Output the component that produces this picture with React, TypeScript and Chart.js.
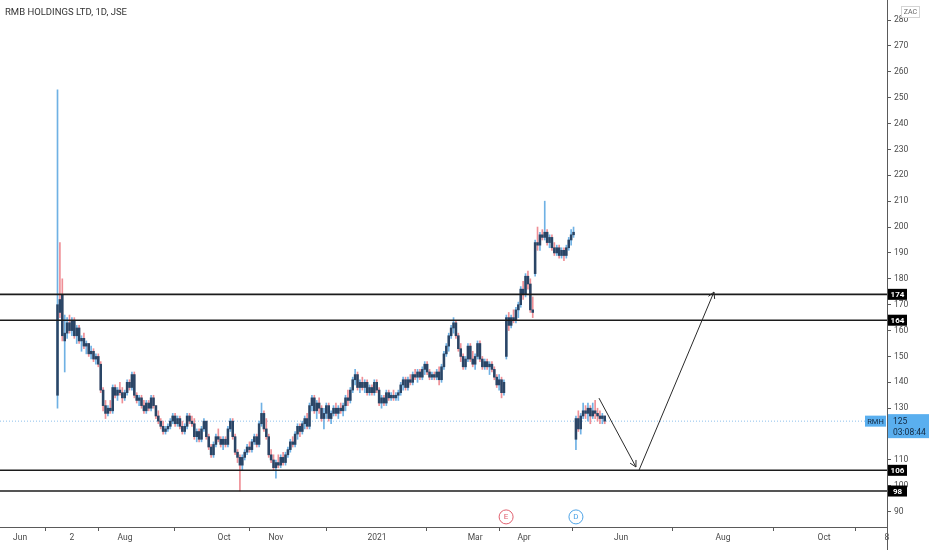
import React, { useEffect, useRef } from "react";
import { Chart, registerables } from "chart.js";

Chart.register(...registerables);

// ---------- data ----------
const opens = [
  135, 172, 174, 156, 159, 163, 160, 164, 158, 161,
  156, 157, 154, 155, 151, 152, 149, 150, 147, 137,
  131, 128, 130, 129, 138, 135, 137, 136, 134, 136,
  140, 138, 143, 135, 133, 134, 131, 129, 132, 130,
  134, 131, 127, 125, 123, 121, 122, 123, 125, 127,
  124, 126, 123, 121, 123, 127, 125, 124, 119, 121,
  118, 122, 125, 119, 115, 112, 116, 119, 118, 116,
  118, 116, 122, 125, 119, 113, 111, 108, 111, 113,
  115, 114, 117, 119, 116, 124, 128, 122, 119, 112,
  110, 107, 109, 108, 111, 109, 112, 114, 117, 116,
  120, 123, 121, 124, 126, 123, 131, 134, 129, 132,
  130, 126, 128, 131, 126, 128, 130, 128, 130, 129,
  131, 134, 133, 137, 141, 143, 138, 140, 138, 140,
  136, 138, 136, 140, 137, 132, 134, 132, 136, 134,
  135, 134, 135, 136, 139, 141, 138, 141, 140, 143,
  142, 144, 142, 145, 147, 144, 142, 143, 142, 144,
  141, 146, 151, 154, 158, 161, 163, 158, 153, 150,
  146, 149, 154, 149, 147, 150, 155, 149, 146, 148,
  146, 147, 145, 142, 139, 141, 136, 150, 165, 162,
  165, 164, 168, 170, 176, 174, 181, 178, 168, 182,
  194, 193, 197, 196, 198, 194, 196, 192, 190, 192,
  189, 191, 189, 192, 195, 197, 118, 126, 122, 127,
  129, 128, 130, 127, 129, 128, 127, 126, 127,
];
const highs = [
  253, 194, 180, 166, 165, 166, 165, 165, 162, 162,
  158, 159, 156, 155, 154, 153, 151, 151, 148, 138,
  133, 131, 133, 139, 139, 138, 140, 138, 137, 141,
  141, 144, 144, 136, 135, 135, 133, 133, 133, 135,
  135, 131, 129, 126, 125, 123, 124, 126, 128, 128,
  127, 127, 125, 124, 128, 128, 127, 126, 122, 122,
  123, 126, 125, 120, 116, 117, 120, 122, 119, 119,
  119, 123, 126, 126, 120, 114, 112, 112, 114, 116,
  117, 118, 120, 120, 125, 132, 129, 126, 120, 114,
  112, 110, 112, 112, 113, 113, 115, 118, 119, 121,
  124, 124, 125, 127, 128, 132, 135, 135, 133, 134,
  131, 130, 132, 132, 129, 131, 132, 131, 132, 132,
  135, 137, 138, 142, 145, 144, 141, 142, 141, 141,
  139, 139, 141, 141, 138, 135, 135, 137, 137, 136,
  137, 136, 137, 140, 142, 142, 142, 143, 144, 145,
  145, 145, 146, 148, 148, 145, 144, 144, 145, 146,
  147, 152, 155, 159, 162, 165, 164, 159, 155, 151,
  150, 155, 155, 152, 151, 156, 156, 150, 149, 149,
  148, 148, 146, 143, 143, 142, 141, 166, 167, 166,
  168, 169, 171, 177, 179, 182, 183, 180, 173, 195,
  200, 198, 199, 210, 199, 197, 197, 194, 193, 193,
  192, 192, 193, 196, 199, 200, 127, 129, 128, 132,
  131, 132, 131, 132, 133, 130, 129, 128, 127,
];
const lows = [
  130, 165, 156, 144, 157, 159, 158, 157, 155, 155,
  152, 153, 151, 150, 149, 148, 147, 146, 136, 129,
  126, 127, 128, 128, 134, 133, 135, 132, 133, 135,
  137, 137, 134, 132, 131, 130, 128, 128, 129, 129,
  130, 126, 124, 122, 120, 120, 121, 122, 124, 123,
  123, 122, 120, 120, 122, 124, 123, 118, 117, 117,
  117, 121, 118, 114, 111, 111, 115, 117, 115, 114,
  115, 115, 121, 118, 112, 109, 98, 106, 110, 112,
  113, 113, 116, 115, 115, 123, 121, 118, 111, 109,
  106, 103, 107, 107, 108, 108, 111, 113, 115, 115,
  118, 119, 120, 122, 122, 122, 129, 128, 126, 128,
  125, 122, 126, 125, 124, 127, 127, 126, 128, 127,
  129, 131, 132, 136, 139, 137, 136, 137, 136, 135,
  135, 135, 135, 136, 131, 130, 131, 131, 133, 133,
  133, 133, 133, 135, 137, 137, 137, 139, 139, 141,
  140, 141, 141, 143, 143, 141, 141, 141, 141, 139,
  140, 145, 150, 152, 157, 159, 157, 152, 148, 145,
  145, 148, 148, 146, 145, 149, 148, 145, 145, 145,
  143, 144, 141, 138, 137, 134, 135, 149, 160, 161,
  163, 163, 165, 169, 172, 173, 176, 167, 165, 181,
  191, 191, 195, 195, 193, 192, 191, 189, 189, 188,
  188, 187, 188, 191, 193, 196, 114, 121, 120, 126,
  126, 125, 124, 126, 126, 125, 124, 124, 124,
];
const closes = [
  170, 167, 158, 159, 163, 160, 164, 158, 161, 156,
  157, 154, 155, 151, 152, 149, 150, 147, 137, 131,
  128, 130, 129, 138, 135, 137, 136, 134, 136, 140,
  138, 143, 135, 133, 134, 131, 129, 132, 130, 134,
  131, 127, 125, 123, 121, 122, 123, 125, 127, 124,
  126, 123, 121, 123, 127, 125, 124, 119, 121, 118,
  122, 125, 119, 115, 112, 116, 119, 118, 116, 118,
  116, 122, 125, 119, 113, 111, 108, 111, 113, 115,
  114, 117, 119, 116, 124, 128, 122, 119, 112, 110,
  107, 109, 108, 111, 109, 112, 114, 117, 116, 120,
  123, 121, 124, 126, 123, 131, 134, 129, 132, 130,
  126, 128, 131, 126, 128, 130, 128, 130, 129, 131,
  134, 133, 137, 141, 143, 138, 140, 138, 140, 136,
  138, 136, 140, 137, 132, 134, 132, 136, 134, 135,
  134, 135, 136, 139, 141, 138, 141, 140, 143, 142,
  144, 142, 145, 147, 144, 142, 143, 142, 144, 141,
  146, 151, 154, 158, 161, 163, 158, 153, 150, 146,
  149, 154, 149, 147, 150, 155, 149, 146, 148, 146,
  147, 145, 142, 139, 141, 136, 140, 165, 162, 165,
  164, 168, 170, 176, 174, 181, 178, 168, 167, 194,
  193, 197, 196, 198, 194, 196, 192, 190, 192, 189,
  191, 189, 192, 195, 197, 198, 126, 122, 127, 129,
  128, 130, 127, 129, 128, 127, 126, 127, 125,
];

// time axis (bar-index units; 0 = first bar)
const xTickLabels = ["Jun", "2", "Aug", "Oct", "Nov", "2021", "Mar", "Apr", "Jun", "Aug", "Oct", "8"];
const xTickIndex = [-15.6, 6, 28.1, 69.4, 91, 133.1, 174, 194.4, 234.8, 277.3, 319.4, 345.6];

const levels = [174, 164, 106, 98];
const lastPrice = 125;
const lastPriceTimer = "03:08:44";
const symbolName = "RMH";
const currencyName = "ZAC";
const titleText = "RMB HOLDINGS LTD, 1D, JSE";

const arrowPaths = [
  [{ x: 225.6, y: 133.9 }, { x: 241, y: 107.3 }],
  [{ x: 242.3, y: 106.1 }, { x: 273.5, y: 174.9 }],
];
const eventLabels = ["E", "D"];
const eventIndex = [186.9, 216];
const eventValue = 88;

const X_MIN = -23.96;
const X_MAX = 345.6;
const Y_MIN = 84.1;
const Y_MAX = 287.73;

// ---------- styles ----------
const FONT = "Roboto, 'Liberation Sans', sans-serif";
const UP_WICK = "#6fb1e4";
const DOWN_WICK = "#ef8f96";
const BODY = "#2a4566";
const LEVEL = "#1c1c1c";
const ARROW = "#2a2a2a";
const AXIS = "#5a5a5a";
const TEXT = "#4a4a4a";
const BLUE = "#5aafef";
const EVENT_COLORS = ["#e0606e", "#4ea3e6"];

const overlayPlugin = {
  id: "overlay",
  afterDatasetsDraw(chart: any) {
    const { ctx } = chart;
    const xs = chart.scales.x;
    const ys = chart.scales.y;
    ctx.save();
    ctx.strokeStyle = ARROW;
    ctx.lineWidth = 1;
    arrowPaths.forEach((path) => {
      const a = path[path.length - 2];
      const b = path[path.length - 1];
      const x1 = xs.getPixelForValue(a.x);
      const y1 = ys.getPixelForValue(a.y);
      const x2 = xs.getPixelForValue(b.x);
      const y2 = ys.getPixelForValue(b.y);
      const ang = Math.atan2(y2 - y1, x2 - x1);
      ctx.beginPath();
      [-1, 1].forEach((s) => {
        ctx.moveTo(x2, y2);
        ctx.lineTo(x2 - 7 * Math.cos(ang + s * 0.5), y2 - 7 * Math.sin(ang + s * 0.5));
      });
      ctx.stroke();
    });
    eventLabels.forEach((lab, i) => {
      const px = xs.getPixelForValue(eventIndex[i]);
      const py = ys.getPixelForValue(eventValue);
      ctx.beginPath();
      ctx.arc(px, py, 7, 0, Math.PI * 2);
      ctx.fillStyle = "#ffffff";
      ctx.fill();
      ctx.strokeStyle = EVENT_COLORS[i];
      ctx.lineWidth = 1;
      ctx.stroke();
      ctx.fillStyle = EVENT_COLORS[i];
      ctx.font = `8px ${FONT}`;
      ctx.textAlign = "center";
      ctx.textBaseline = "middle";
      ctx.fillText(lab, px, py + 0.5);
    });
    ctx.restore();
  },
  afterDraw(chart: any) {
    const { ctx, chartArea: ca } = chart;
    const ys = chart.scales.y;
    ctx.save();
    ctx.strokeStyle = AXIS;
    ctx.lineWidth = 1;
    ctx.beginPath();
    ctx.moveTo(Math.round(ca.right) + 0.5, ca.bottom);
    ctx.lineTo(Math.round(ca.right) + 0.5, chart.height);
    ctx.stroke();

    ctx.fillStyle = "#333333";
    ctx.font = `9.5px ${FONT}`;
    ctx.textAlign = "left";
    ctx.textBaseline = "middle";
    ctx.fillText(titleText, ca.left + 5, ca.top + 13);

    ctx.fillStyle = "#ffffff";
    ctx.strokeStyle = "#d4d4d4";
    ctx.fillRect(ca.right + 14, 6, 18, 11);
    ctx.strokeRect(ca.right + 14.5, 6.5, 18, 11);
    ctx.fillStyle = "#666666";
    ctx.font = `7px ${FONT}`;
    ctx.textAlign = "center";
    ctx.fillText(currencyName, ca.right + 23.5, 12.3);

    levels.forEach((v) => {
      const y = ys.getPixelForValue(v);
      ctx.fillStyle = "#000000";
      ctx.fillRect(ca.right + 1, y - 5.5, 19, 11);
      ctx.fillStyle = "#ffffff";
      ctx.font = `bold 8px ${FONT}`;
      ctx.textAlign = "center";
      ctx.textBaseline = "middle";
      ctx.fillText(String(v), ca.right + 10.5, y + 0.5);
    });

    const yp = ys.getPixelForValue(lastPrice);
    ctx.fillStyle = BLUE;
    ctx.fillRect(ca.right + 1, yp - 7, 41, 24);
    ctx.fillRect(ca.right - 22, yp - 5.5, 21, 11);
    ctx.fillStyle = "#14283f";
    ctx.textBaseline = "middle";
    ctx.font = `8.5px ${FONT}`;
    ctx.textAlign = "left";
    ctx.fillText(String(lastPrice), ca.right + 6, yp + 0.5);
    ctx.fillText(lastPriceTimer, ca.right + 6, yp + 11.5);
    ctx.font = `7.5px ${FONT}`;
    ctx.textAlign = "center";
    ctx.fillText(symbolName, ca.right - 11.5, yp + 0.5);
    ctx.restore();
  },
};

export default function App() {
  const ref = useRef<HTMLCanvasElement | null>(null);

  useEffect(() => {
    if (!ref.current) return;
    const idx = opens.map((_, i) => i);
    const wickData = idx.map((i) => ({ x: i, y: [lows[i], highs[i]] }));
    const bodyData = idx.map((i) => ({
      x: i,
      y: [Math.min(opens[i], closes[i]), Math.max(opens[i], closes[i])],
    }));
    const wickColors = idx.map((i) => (closes[i] >= opens[i] ? UP_WICK : DOWN_WICK));

    const levelSets = levels.map((v) => ({
      type: "line" as const,
      data: [
        { x: X_MIN, y: v },
        { x: X_MAX, y: v },
      ],
      borderColor: LEVEL,
      borderWidth: 1.6,
      pointRadius: 0,
      order: -2,
    }));
    const arrowSets = arrowPaths.map((p) => ({
      type: "line" as const,
      data: p,
      borderColor: ARROW,
      borderWidth: 1,
      pointRadius: 0,
      order: -3,
    }));

    const chart = new Chart(ref.current, {
      type: "bar",
      data: {
        datasets: [
          {
            type: "line" as const,
            data: [
              { x: X_MIN, y: lastPrice },
              { x: X_MAX, y: lastPrice },
            ],
            borderColor: "#8cc0ec",
            borderWidth: 1,
            borderDash: [1, 2],
            pointRadius: 0,
            order: 5,
          },
          {
            type: "bar" as const,
            data: bodyData as any,
            backgroundColor: BODY,
            barThickness: 1.9,
            minBarLength: 1,
            grouped: false,
            borderWidth: 0,
            order: 0,
          },
          {
            type: "bar" as const,
            data: wickData as any,
            backgroundColor: wickColors,
            barThickness: 1,
            grouped: false,
            borderWidth: 0,
            order: 1,
          },
          ...levelSets,
          ...arrowSets,
        ] as any,
      },
      options: {
        animation: false,
        responsive: false,
        events: [],
        layout: { padding: 0 },
        plugins: {
          legend: { display: false },
          tooltip: { enabled: false },
          title: { display: false },
        },
        scales: {
          x: {
            type: "linear",
            min: X_MIN,
            max: X_MAX,
            offset: false,
            afterBuildTicks: (s: any) => {
              s.ticks = xTickIndex.map((v) => ({ value: v }));
            },
            afterFit: (s: any) => {
              s.height = 23;
              s.paddingLeft = 0;
              s.paddingRight = 0;
            },
            ticks: {
              autoSkip: false,
              maxRotation: 0,
              minRotation: 0,
              padding: 2,
              color: TEXT,
              font: { family: FONT, size: 8.5 },
              callback: (_v: any, i: number) => xTickLabels[i],
            },
            grid: { drawOnChartArea: false, tickLength: 4, color: AXIS },
            border: { display: true, color: AXIS, width: 1 },
          },
          y: {
            type: "linear",
            position: "right",
            min: Y_MIN,
            max: Y_MAX,
            afterFit: (s: any) => {
              s.width = 45;
              s.paddingTop = 0;
              s.paddingBottom = 0;
            },
            ticks: {
              stepSize: 10,
              includeBounds: false,
              padding: 3,
              color: TEXT,
              font: { family: FONT, size: 8.5 },
            },
            grid: { drawOnChartArea: false, tickLength: 4, color: AXIS },
            border: { display: true, color: AXIS, width: 1 },
          },
        },
      } as any,
      plugins: [overlayPlugin],
    });
    return () => chart.destroy();
  }, []);

  return (
    <div
      style={{
        position: "fixed",
        left: 0,
        top: 0,
        width: 932,
        height: 550,
        background: "#ffffff",
      }}
    >
      <canvas ref={ref} width={932} height={550} style={{ display: "block" }} />
    </div>
  );
}
